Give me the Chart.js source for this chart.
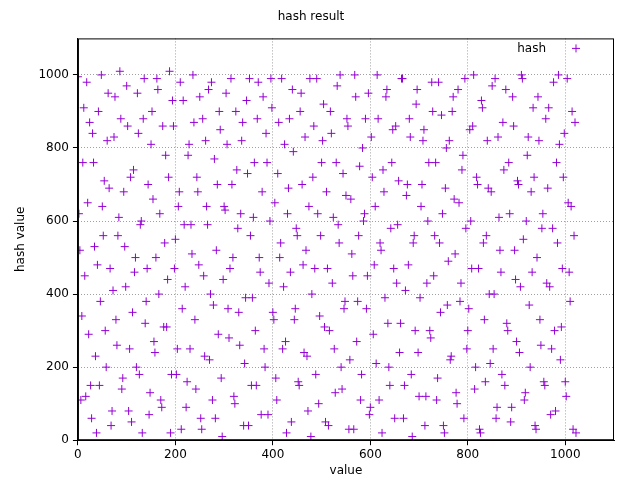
<!DOCTYPE html>
<html>
<head>
<meta charset="UTF-8">
<title>hash result</title>
<script src="https://cdn.jsdelivr.net/npm/chart.js@4"></script>
<style>body{margin:0;background:#fff}#wrap{width:640px;height:480px}</style>
</head>
<body>
<div id="wrap"><canvas id="c"></canvas></div>
<script>
// values (x stepping by 4, two columns per step)
const xStart = 0, xStep = 4;
const hashA = [995,520,340,910,120,650,870,60,760,230,480,150,1000,560,300,820,690,40,410,940,260,610,880,170,530,970,80,720,350,460,
  200,840,590,20,990,380,700,130,900,270,500,960,620,90,310,780,440,1010,180,860,550,250,680,30,930,420,160,810,590,1000,
  330,720,480,60,880,230,640,960,400,110,770,520,290,850,10,640,950,360,470,700,120,900,580,260,820,40,390,730,990,150,
  610,300,880,500,70,940,200,760,430,990,350,650,110,870,540,250,810,20,690,460,960,330,580,160,900,700,240,520,80,990,
  400,860,180,620,340,760,920,50,470,300,840,610,130,970,540,200,730,380,880,30,660,450,1000,270,560,110,800,620,360,950,
  90,720,480,210,880,540,20,680,940,320,150,760,470,860,590,240,990,60,410,700,880,180,540,300,960,120,640,820,40,430,
  760,280,900,560,110,980,350,620,20,800,490,220,900,660,130,960,380,740,60,580,300,850,470,1000,200,700,30,930,540,160,
  820,400,680,250,990,90,610,460,870,150,320,760,50,940,520,270,700,420,990,110,600,830,200,460,720,30,940,330,580,160,
  880,690,420,250,980,80,540,810,310,720,160,990,460,640,30,870
];
const hashB = [620,110,760,450,980,290,150,840,530,20,900,380,640,710,200,950,470,80,830,330,560,1010,140,680,420,860,250,50,740,500,
  950,180,600,880,320,470,70,810,660,240,990,400,110,860,540,310,720,20,930,470,180,640,980,360,590,90,780,250,510,870,
  140,680,940,30,450,820,590,220,980,370,60,700,900,170,440,630,810,280,990,500,100,740,350,620,870,210,930,40,560,390,
  760,150,980,460,680,250,840,70,600,910,330,170,730,500,990,420,270,620,880,50,790,360,560,150,950,480,830,230,640,10,
  720,470,990,100,560,820,310,680,40,900,430,250,760,590,1000,140,360,670,860,220,510,30,940,380,750,180,600,880,450,70,
  830,290,640,1000,110,520,740,390,960,200,580,850,60,430,710,320,990,150,670,480,830,10,560,920,240,390,700,850,120,600,
  300,980,450,760,170,540,890,40,690,370,820,230,940,510,100,650,430,780,990,250,360,600,860,140,720,470,20,910,330,560,
  690,210,970,400,60,830,520,180,740,960,300,620,90,860,440,710,240,1000,550,130,780,370,680,910,40,500,820,260,620,150,
  430,910,70,580,300,760,1000,220,470,840,120,650,380,900,560,20
];
const xTicks = [0, 200, 400, 600, 800, 1000];
const yTicks = [0, 200, 400, 600, 800, 1000];

const ptsA = hashA.map((v, i) => ({x: xStart + i * xStep, y: v}));
const ptsB = hashB.map((v, i) => ({x: xStart + i * xStep + 2, y: v}));

const PURPLE = '#9400d3';
const font = {family: 'DejaVu Sans', size: 12};
const grid = {color: '#a0a0a0', lineWidth: 1, drawTicks: true, tickLength: 5, tickColor: '#000'};
const border = {color: '#000', dash: [1, 2]};

new Chart(document.getElementById('c'), {
  type: 'scatter',
  data: {
    datasets: [{
      label: 'hash',
      data: ptsA.concat(ptsB),
      pointStyle: 'cross',
      pointRadius: 4,
      borderColor: PURPLE,
      backgroundColor: PURPLE,
      borderWidth: 1
    }]
  },
  options: {
    responsive: true,
    maintainAspectRatio: false,
    animation: false,
    layout: {padding: {right: 26, left: 8, top: 0, bottom: 2}},
    plugins: {
      title: {display: true, text: 'hash result', color: '#000', font: {family: 'DejaVu Sans', size: 12, weight: 'normal'}, padding: {top: 10, bottom: 14}},
      legend: {display: false},
      tooltip: {enabled: false}
    },
    scales: {
      x: {
        type: 'linear', min: 0, max: 1100,
        border: border, grid: grid,
        afterBuildTicks: s => { s.ticks = xTicks.map(v => ({value: v})); },
        ticks: {color: '#000', font: font, padding: 2, callback: v => String(v)},
        title: {display: true, text: 'value', color: '#000', font: font, padding: 0}
      },
      y: {
        type: 'linear', min: 0, max: 1100,
        border: border, grid: grid,
        afterBuildTicks: s => { s.ticks = yTicks.map(v => ({value: v})); },
        ticks: {color: '#000', font: font, padding: 4, callback: v => String(v)},
        title: {display: true, text: 'hash value', color: '#000', font: font, padding: 6}
      }
    }
  },
  plugins: [{
    id: 'frame',
    afterDraw(chart) {
      const a = chart.chartArea, ctx = chart.ctx;
      ctx.save();
      ctx.strokeStyle = '#000';
      ctx.lineWidth = 1;
      ctx.setLineDash([]);
      ctx.strokeRect(a.left + 0.5, a.top + 0.5, a.width - 1, a.height - 1);
      // gnuplot-style key in the top right corner
      const y = a.top + 10, mx = a.right - 38;
      ctx.fillStyle = '#000';
      ctx.font = '12px "DejaVu Sans"';
      ctx.textAlign = 'right';
      ctx.textBaseline = 'middle';
      ctx.fillText(chart.data.datasets[0].label, mx - 30, y);
      ctx.strokeStyle = PURPLE;
      ctx.beginPath();
      ctx.moveTo(mx - 4, y); ctx.lineTo(mx + 4, y);
      ctx.moveTo(mx, y - 4); ctx.lineTo(mx, y + 4);
      ctx.stroke();
      ctx.restore();
    }
  }]
});
</script>
</body>
</html>
